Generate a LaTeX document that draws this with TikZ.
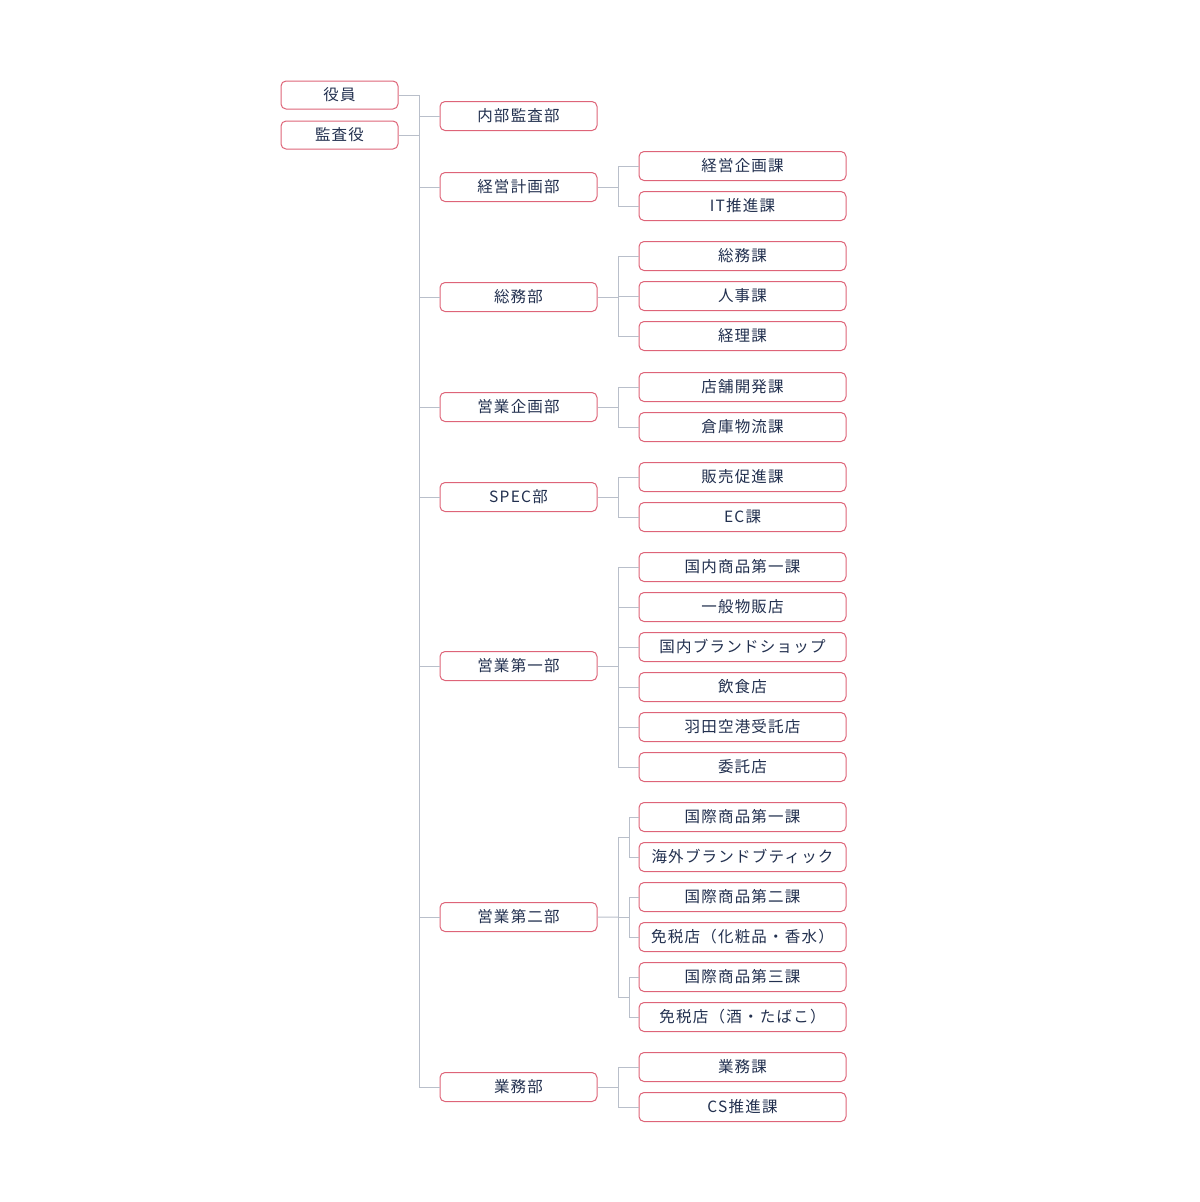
\documentclass[tikz,border=0pt]{standalone}
\usepackage{fontspec}
\setmainfont{Noto Sans CJK JP}[LetterSpace=8]
\usepackage{xcolor}
\usetikzlibrary{calc, positioning}

\definecolor{boxred}{HTML}{DE6478}
\definecolor{ink}{HTML}{22304F}
\definecolor{wireline}{HTML}{B9BFCA}

\tikzset{
  unit/.style={draw=boxred, line width=1bp, rounded corners=5bp, fill=white,
    minimum height=29bp, inner sep=0pt, text=ink,
    text height=1.2em, text depth=0.06em,
    font=\fontsize{15.5bp}{17bp}\selectfont},
  topbox/.style={unit, minimum width=117bp, minimum height=28bp},
  deptbox/.style={unit, minimum width=157bp},
  secbox/.style={unit, minimum width=207bp},
  wire/.style={draw=wireline, line width=1bp}
}

\begin{document}
\begin{tikzpicture}[x=1bp, y=-1bp]
  \useasboundingbox (0,0) rectangle (1200,1202);

  % Buses
  \coordinate (trunk) at (419,0);
  \coordinate (bus) at (618,0);
  \coordinate (sub) at (629,0);

  % Top
  \node[topbox] (yakuin) at (339.5,95) {役員};
  \node[topbox] (kansayaku) at (339.5,135) {監査役};

  % Departments
  \node[deptbox] (naibu) at (518.5,116) {内部監査部};
  \node[deptbox] (keiei) at (518.5,187) {経営計画部};
  \node[deptbox] (somu) at (518.5,297) {総務部};
  \node[deptbox] (eigyokikaku) at (518.5,407) {営業企画部};
  \node[deptbox] (spec) at (518.5,497) {SPEC部};
  \node[deptbox] (eigyo1) at (518.5,666) {営業第一部};
  \node[deptbox] (eigyo2) at (518.5,917) {営業第二部};
  \node[deptbox] (gyomu) at (518.5,1087) {業務部};

  % Sections
  \foreach \nm/\yy/\txt in {
      kikaku/166/経営企画課, it/206/IT推進課,
      somuka/256/総務課, jinji/296/人事課, keiri/336/経理課,
      tenpo/387/店舗開発課, soko/427/倉庫物流課,
      hanbai/477/販売促進課, ec/517/EC課,
      kokunai1/567/国内商品第一課, ippan/607/一般物販店,
      brand/647/国内ブランドショップ, inshoku/687/飲食店,
      haneda/727/羽田空港受託店, itaku/767/委託店,
      kokusai1/817/国際商品第一課, kaigai/857/海外ブランドブティック,
      kokusai2/897/国際商品第二課, menzei1/937/免税店（化粧品・香水）,
      kokusai3/977/国際商品第三課, menzei2/1017/免税店（酒・たばこ）,
      gyomuka/1067/業務課, cs/1107/CS推進課}
    \node[secbox] (\nm) at (742.5,\yy) {\txt};

  % Trunk
  \draw[wire] (yakuin.east) -- (yakuin.east -| trunk) -- (gyomu.west -| trunk) -- (gyomu.west);
  \draw[wire] (kansayaku.east) -- (kansayaku.east -| trunk);
  \foreach \d in {naibu, keiei, somu, eigyokikaku, spec, eigyo1, eigyo2}
    \draw[wire] (\d.west) -- (\d.west -| trunk);

  % Department to sections
  \foreach \d/\first/\last in {keiei/kikaku/it, somu/somuka/keiri,
      eigyokikaku/tenpo/soko, spec/hanbai/ec, eigyo1/kokunai1/itaku,
      gyomu/gyomuka/cs} {
    \draw[wire] (\d.east) -- (\d.east -| bus);
    \draw[wire] (\first.west) -- (\first.west -| bus) -- (\last.west -| bus) -- (\last.west);
  }
  \foreach \s in {jinji, ippan, brand, inshoku, haneda}
    \draw[wire] (\s.west) -- (\s.west -| bus);

  % Eigyo 2
  \coordinate (m1) at ($(kokusai1.west -| sub)!0.5!(kaigai.west -| sub)$);
  \coordinate (m2) at ($(kokusai2.west -| sub)!0.5!(menzei1.west -| sub)$);
  \coordinate (m3) at ($(kokusai3.west -| sub)!0.5!(menzei2.west -| sub)$);
  \draw[wire] (eigyo2.east) -- (m2 -| bus);
  \draw[wire] (m1) -- (m1 -| bus) -- (m3 -| bus) -- (m3);
  \draw[wire] (m2 -| bus) -- (m2);
  \foreach \first/\last in {kokusai1/kaigai, kokusai2/menzei1, kokusai3/menzei2}
    \draw[wire] (\first.west) -- (\first.west -| sub) -- (\last.west -| sub) -- (\last.west);
\end{tikzpicture}
\end{document}
